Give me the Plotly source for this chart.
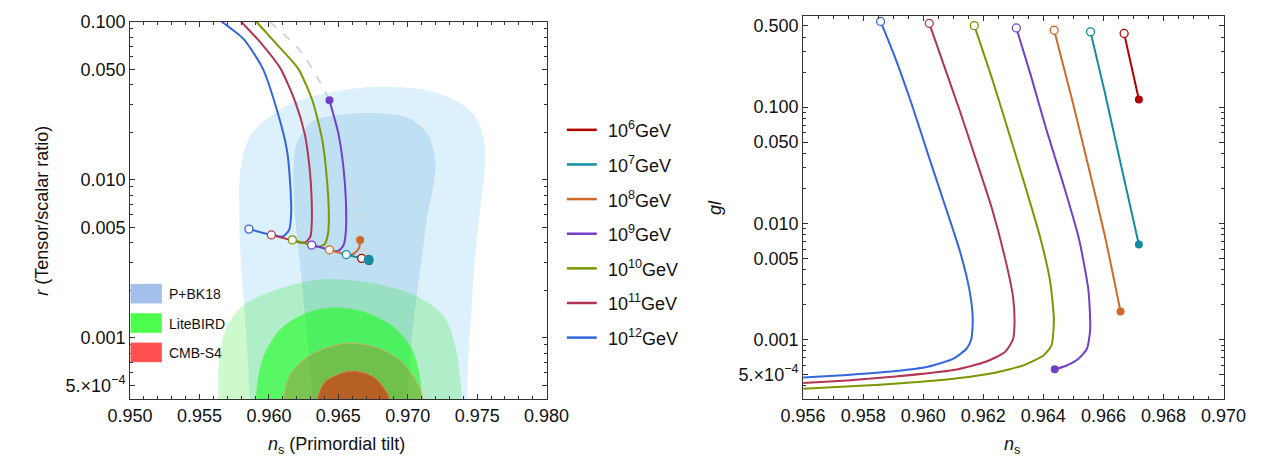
import plotly.graph_objects as go

W, H = 1288, 459

# ---------------- data ----------------
energy_labels = ["10<sup>6</sup>GeV", "10<sup>7</sup>GeV", "10<sup>8</sup>GeV", "10<sup>9</sup>GeV",
                 "10<sup>10</sup>GeV", "10<sup>11</sup>GeV", "10<sup>12</sup>GeV"]
energy_colors = ["#b00000", "#138ca2", "#d06828", "#7040c8", "#7a9802", "#b03652", "#3366dd"]

# Left panel: (n_s, r) tracks, from the upper end down to the open circle
left_ns_1e12 = [0.9566, 0.9582, 0.95956, 0.9606, 0.9613, 0.96153, 0.9616, 0.96145, 0.9610, 0.96018, 0.95856]
left_r_1e12 = [0.100, 0.0774, 0.0505, 0.0272, 0.0154, 0.00955, 0.0060, 0.0048, 0.00437, 0.00447, 0.00487]
left_ns_1e11 = [0.9580, 0.9594, 0.96084, 0.96188, 0.96258, 0.96292, 0.96308, 0.96308, 0.96300, 0.9627, 0.9623, 0.96169, 0.96018]
left_r_1e11 = [0.100, 0.0738, 0.0505, 0.0314, 0.0195, 0.01213, 0.00754, 0.00515, 0.0044, 0.00405, 0.00400, 0.00413, 0.00447]
left_ns_1e10 = [0.9591, 0.96067, 0.96211, 0.96315, 0.96385, 0.96420, 0.96432, 0.96425, 0.9640, 0.9636, 0.96308, 0.96169]
left_r_1e10 = [0.100, 0.0703, 0.0505, 0.0314, 0.01774, 0.00955, 0.00594, 0.0045, 0.0039, 0.00376, 0.00386, 0.00416]
left_ns_1e9 = [0.96436, 0.96501, 0.96536, 0.96554, 0.96554, 0.9654, 0.9651, 0.9648, 0.96436, 0.96308]
left_r_1e9 = [0.0318, 0.0195, 0.01213, 0.00754, 0.00469, 0.0039, 0.0036, 0.00352, 0.00360, 0.00386]
left_ns_1e8 = [0.96657, 0.96650, 0.96620, 0.96590, 0.96557, 0.96436]
left_r_1e8 = [0.00416, 0.0037, 0.00345, 0.00334, 0.00336, 0.00360]
left_ns_1e7 = [0.96719, 0.96668, 0.96557]
left_r_1e7 = [0.00311, 0.00318, 0.00336]
left_ns_1e6 = [0.96722, 0.96668]
left_r_1e6 = [0.00306, 0.00318]

# grey dashed locus of end points
locus_ns = [0.96005, 0.96216, 0.96340, 0.96434, 0.96524, 0.96582, 0.96617, 0.96645, 0.96657, 0.96719]
locus_r = [0.1, 0.0671, 0.0458, 0.0317, 0.0154, 0.00955, 0.00653, 0.0050, 0.00416, 0.0031]

# Right panel: (n_s, gl) tracks, from the open circle downwards
right_ns_1e12 = [0.95858, 0.95908, 0.95962, 0.96015, 0.96069, 0.96122, 0.96154, 0.96165, 0.96160, 0.96144, 0.96101, 0.96015, 0.95908, 0.95748, 0.95600]
right_gl_1e12 = [0.545, 0.260, 0.1052, 0.0400, 0.0152, 0.00578, 0.00267, 0.00149, 0.00101, 0.000836, 0.000689, 0.000586, 0.000538, 0.000498, 0.000473]
right_ns_1e11 = [0.96020, 0.96069, 0.96122, 0.96176, 0.96229, 0.96272, 0.96299, 0.96304, 0.96299, 0.96272, 0.96208, 0.96101, 0.95908, 0.95748, 0.95600]
right_gl_1e11 = [0.525, 0.2284, 0.0925, 0.0352, 0.01337, 0.00508, 0.00234, 0.00140, 0.00101, 0.000783, 0.000646, 0.000548, 0.000482, 0.000447, 0.000424]
right_ns_1e10 = [0.96170, 0.96229, 0.96283, 0.96336, 0.96390, 0.96422, 0.96435, 0.96427, 0.96401, 0.96336, 0.96229, 0.96069, 0.95855, 0.95600]
right_gl_1e10 = [0.5016, 0.1764, 0.0628, 0.0224, 0.00748, 0.00324, 0.00149, 0.000891, 0.000735, 0.000605, 0.000514, 0.000452, 0.000410, 0.000378]
right_ns_1e9 = [0.96310, 0.96358, 0.96411, 0.96465, 0.96518, 0.96550, 0.96556, 0.96545, 0.96518, 0.96476, 0.96438]
right_gl_1e9 = [0.4793, 0.1882, 0.0628, 0.0224, 0.00748, 0.00267, 0.00123, 0.000836, 0.000689, 0.000597, 0.000556]
right_ns_1e8 = [0.96436, 0.96497, 0.96550, 0.96604, 0.96657]
right_gl_1e8 = [0.458, 0.1123, 0.0309, 0.00798, 0.00175]
right_ns_1e7 = [0.96557, 0.96604, 0.96657, 0.96718]
right_gl_1e7 = [0.4434, 0.1363, 0.0330, 0.00658]
right_ns_1e6 = [0.96669, 0.96718]
right_gl_1e6 = [0.4295, 0.116]

# which tracks end in a filled dot (left: first point, right: last point)
ends_in_dot = [True, True, True, True, False, False, False]

# Constraint regions (n_s, r boundaries; closed below the visible range)
bk18_outer_ns = [0.95861, 0.95849, 0.95826, 0.95799, 0.95787, 0.95792, 0.95849, 0.95965, 0.96196, 0.96544, 0.96776,
                 0.97123, 0.97354, 0.97493, 0.97557, 0.97551, 0.97516, 0.97481, 0.97458, 0.97435, 0.97428, 0.97426, 0.96640, 0.95863]
bk18_outer_r = [4.06e-4, 7.0e-4, 1.43e-3, 2.91e-3, 5.94e-3, 0.0110, 0.01774, 0.0236, 0.0314, 0.0370, 0.0388,
                0.0370, 0.0314, 0.0247, 0.0161, 0.0110, 5.94e-3, 2.91e-3, 1.43e-3, 7.0e-4, 4.06e-4, 2e-4, 2e-4, 2e-4]
bk18_inner_ns = [0.96312, 0.96290, 0.96255, 0.96220, 0.96185, 0.96174, 0.96196, 0.96312, 0.96498, 0.96776, 0.97007,
                 0.97146, 0.97203, 0.97192, 0.97146, 0.97099, 0.97053, 0.97019, 0.96995, 0.96993, 0.96650, 0.96314]
bk18_inner_r = [4.06e-4, 7.0e-4, 1.43e-3, 2.91e-3, 5.94e-3, 0.01213, 0.0169, 0.0236, 0.0259, 0.0266, 0.0247,
                0.0195, 0.0133, 9.55e-3, 5.94e-3, 2.91e-3, 1.43e-3, 7.0e-4, 4.06e-4, 2e-4, 2e-4, 2e-4]
litebird_outer_ns = [0.95637, 0.95641, 0.95688, 0.95803, 0.96035, 0.96405, 0.96776, 0.97076, 0.97262, 0.97342, 0.97377,
                     0.97389, 0.97390, 0.96510, 0.95636]
litebird_outer_r = [4.06e-4, 7.0e-4, 1.125e-3, 1.57e-3, 1.99e-3, 2.35e-3, 2.19e-3, 1.81e-3, 1.36e-3, 8.89e-4, 5.52e-4,
                    4.06e-4, 2e-4, 2e-4, 2e-4]
litebird_inner_ns = [0.95908, 0.95919, 0.95965, 0.96081, 0.96266, 0.96451, 0.96683, 0.96891, 0.97030, 0.97088, 0.97099,
                     0.97100, 0.96500, 0.95907]
litebird_inner_r = [4.06e-4, 5.26e-4, 7.7e-4, 1.125e-3, 1.43e-3, 1.55e-3, 1.46e-3, 1.18e-3, 8.47e-4, 5.52e-4, 4.06e-4,
                    2e-4, 2e-4, 2e-4]
cmbs4_outer_ns = [0.96104, 0.96151, 0.96290, 0.96544, 0.96776, 0.96960, 0.97076, 0.97111, 0.97112, 0.96600, 0.96103]
cmbs4_outer_r = [4.06e-4, 5.8e-4, 7.7e-4, 9.19e-4, 8.67e-4, 7.0e-4, 5.02e-4, 4.06e-4, 2e-4, 2e-4, 2e-4]
cmbs4_inner_ns = [0.96347, 0.96405, 0.96590, 0.96752, 0.96845, 0.96868, 0.96869, 0.96600, 0.96346]
cmbs4_inner_r = [4.06e-4, 5.26e-4, 6.14e-4, 5.65e-4, 4.56e-4, 4.06e-4, 2e-4, 2e-4, 2e-4]

region_names = ["P+BK18", "LiteBIRD", "CMB-S4"]
region_swatch = ["#a3bfea", "#4dff4d", "#ff5050"]

# ticks
left_x_ticks = [0.950, 0.955, 0.960, 0.965, 0.970, 0.975, 0.980]
left_y_ticks = [0.1, 0.05, 0.01, 0.005, 0.001, 0.0005]
left_y_text = ["0.100", "0.050", "0.010", "0.005", "0.001", "5.×10<sup>−4</sup>"]
right_x_ticks = [0.956, 0.958, 0.960, 0.962, 0.964, 0.966, 0.968, 0.970]
right_y_ticks = [0.5, 0.1, 0.05, 0.01, 0.005, 0.001, 0.0005]
right_y_text = ["0.500", "0.100", "0.050", "0.010", "0.005", "0.001", "5.×10<sup>−4</sup>"]

# ---------------- figure ----------------
FONT = "Liberation Sans, Arial, sans-serif"
FS = 18
fig = go.Figure()

left_tracks = [(left_ns_1e6, left_r_1e6), (left_ns_1e7, left_r_1e7), (left_ns_1e8, left_r_1e8),
               (left_ns_1e9, left_r_1e9), (left_ns_1e10, left_r_1e10), (left_ns_1e11, left_r_1e11),
               (left_ns_1e12, left_r_1e12)]
right_tracks = [(right_ns_1e6, right_gl_1e6), (right_ns_1e7, right_gl_1e7), (right_ns_1e8, right_gl_1e8),
                (right_ns_1e9, right_gl_1e9), (right_ns_1e10, right_gl_1e10), (right_ns_1e11, right_gl_1e11),
                (right_ns_1e12, right_gl_1e12)]

regions = [
    (bk18_outer_ns, bk18_outer_r, "rgba(0,153,233,0.137)", "rgba(255,255,255,0.0)"),
    (bk18_inner_ns, bk18_inner_r, "rgba(75,155,205,0.2)", "rgba(255,255,255,0.45)"),
    (litebird_outer_ns, litebird_outer_r, "rgba(0,230,0,0.2)", "rgba(255,255,255,0.0)"),
    (litebird_inner_ns, litebird_inner_r, "rgba(0,255,0,0.5)", "rgba(120,235,120,0.5)"),
    (cmbs4_outer_ns, cmbs4_outer_r, "rgba(255,0,0,0.2)", "rgba(240,160,140,0.7)"),
    (cmbs4_inner_ns, cmbs4_inner_r, "rgba(255,0,0,0.5)", "rgba(255,110,90,0.7)"),
]
for ns, r, fc, lc in regions:
    fig.add_trace(go.Scatter(x=ns, y=r, mode="lines", fill="toself", fillcolor=fc,
                             line=dict(color=lc, width=1, shape="spline", smoothing=0.9),
                             hoverinfo="skip", showlegend=False, xaxis="x", yaxis="y"))

fig.add_trace(go.Scatter(x=locus_ns, y=locus_r, mode="lines",
                         line=dict(color="#d6d6d6", width=2, dash="dash", shape="spline", smoothing=0.8),
                         showlegend=False, xaxis="x", yaxis="y"))

# lines, drawn from 10^12 to 10^6
for i in reversed(range(7)):
    ns, r = left_tracks[i]
    fig.add_trace(go.Scatter(x=ns, y=r, mode="lines",
                             line=dict(color=energy_colors[i], width=2, shape="spline", smoothing=0.6),
                             showlegend=False, xaxis="x", yaxis="y"))
    ns2, gl = right_tracks[i]
    fig.add_trace(go.Scatter(x=ns2, y=gl, mode="lines",
                             line=dict(color=energy_colors[i], width=2, shape="spline", smoothing=0.6),
                             showlegend=False, xaxis="x2", yaxis="y2"))

# markers
for i in range(7):
    c = energy_colors[i]
    ns, r = left_tracks[i]
    ns2, gl = right_tracks[i]
    fig.add_trace(go.Scatter(x=[ns[-1]], y=[r[-1]], mode="markers",
                             marker=dict(size=8, color="white", line=dict(color=c, width=1.3)),
                             showlegend=False, xaxis="x", yaxis="y"))
    fig.add_trace(go.Scatter(x=[ns2[0]], y=[gl[0]], mode="markers",
                             marker=dict(size=8, color="white", line=dict(color=c, width=1.3)),
                             showlegend=False, xaxis="x2", yaxis="y2"))
    if ends_in_dot[i]:
        sz = 10 if i == 1 else 8
        fig.add_trace(go.Scatter(x=[ns[0]], y=[r[0]], mode="markers",
                                 marker=dict(size=sz, color=c, line=dict(width=0)),
                                 showlegend=False, xaxis="x", yaxis="y"))
        fig.add_trace(go.Scatter(x=[ns2[-1]], y=[gl[-1]], mode="markers",
                                 marker=dict(size=8, color=c, line=dict(width=0)),
                                 showlegend=False, xaxis="x2", yaxis="y2"))


def minor_log(lo, hi, majors):
    vals = []
    for k in range(-5, 1):
        for d in range(2, 10):
            v = d * 10 ** k
            if lo <= v <= hi and all(abs(v - m) > 1e-12 for m in majors):
                vals.append(v)
    return vals


axis_common = dict(showline=True, linecolor="#333333", linewidth=1, mirror="allticks",
                   ticks="inside", ticklen=5, tickwidth=1, tickcolor="#333333",
                   showgrid=False, zeroline=False,
                   tickfont=dict(family=FONT, size=FS, color="#111111"))

fig.update_layout(
    width=W, height=H, margin=dict(l=0, r=0, t=0, b=0),
    paper_bgcolor="white", plot_bgcolor="white", showlegend=False,
    xaxis=dict(domain=[111 / W, 543 / W], range=[0.950, 0.980], anchor="y",
               tickvals=left_x_ticks, ticktext=[f"{v:.3f}" for v in left_x_ticks],
               minor=dict(dtick=0.001, tick0=0.95, ticks="inside", ticklen=3, tickcolor="#333333"),
               **axis_common),
    yaxis=dict(domain=[1 - 398 / H, 1 - 12 / H], type="log", range=[-3.390, -1.0], anchor="x",
               tickvals=left_y_ticks, ticktext=left_y_text,
               minor=dict(tickvals=minor_log(4e-4, 0.1, left_y_ticks), ticks="inside", ticklen=3,
                          tickcolor="#333333"),
               **axis_common),
    xaxis2=dict(domain=[809 / W, 1245 / W], range=[0.956, 0.970], anchor="y2",
                tickvals=right_x_ticks, ticktext=[f"{v:.3f}" for v in right_x_ticks],
                minor=dict(dtick=0.0005, tick0=0.956, ticks="inside", ticklen=3, tickcolor="#333333"),
                **axis_common),
    yaxis2=dict(domain=[1 - 398 / H, 1 - 6 / H], type="log", range=[-3.5126, -0.2157], anchor="x2",
                tickvals=right_y_ticks, ticktext=right_y_text,
                minor=dict(tickvals=minor_log(3e-4, 0.6, right_y_ticks), ticks="inside", ticklen=3,
                           tickcolor="#333333"),
                **axis_common),
)

ann = []
shapes = []
txt_font = dict(family=FONT, size=FS, color="#111111")
# axis titles
ann.append(dict(x=325 / W, y=1 - 445 / H, xref="paper", yref="paper", showarrow=False,
                text="<i>n</i><sub>s</sub> (Primordial tilt)", font=txt_font, xanchor="center", yanchor="middle"))
ann.append(dict(x=19 / W, y=1 - 205 / H, xref="paper", yref="paper", showarrow=False, textangle=-90,
                text="<i>r</i> (Tensor/scalar ratio)", font=txt_font, xanchor="center", yanchor="middle"))
ann.append(dict(x=1026 / W, y=1 - 445 / H, xref="paper", yref="paper", showarrow=False,
                text="<i>n</i><sub>s</sub>", font=txt_font, xanchor="center", yanchor="middle"))
ann.append(dict(x=717 / W, y=1 - 202 / H, xref="paper", yref="paper", showarrow=False, textangle=-90,
                text="<i>gl</i>", font=txt_font, xanchor="center", yanchor="middle"))

# energy legend
for i, (lab, c) in enumerate(zip(energy_labels, energy_colors)):
    yc = 122.5 + 35.4 * i
    shapes.append(dict(type="line", xref="paper", yref="paper", x0=564 / W, x1=595 / W,
                       y0=1 - yc / H, y1=1 - yc / H, line=dict(color=c, width=2.5)))
    ann.append(dict(x=605 / W, y=1 - yc / H, xref="paper", yref="paper", showarrow=False,
                    text=lab, font=txt_font, xanchor="left", yanchor="middle"))

# region legend inside the left panel
for i, (nm, c) in enumerate(zip(region_names, region_swatch)):
    y0 = 280 + 30 * i
    shapes.append(dict(type="rect", xref="paper", yref="paper", x0=111.5 / W, x1=144 / W,
                       y0=1 - (y0 + 20) / H, y1=1 - y0 / H, fillcolor=c, line=dict(width=0), layer="above"))
    ann.append(dict(x=149 / W, y=1 - (y0 + 10.5) / H, xref="paper", yref="paper", showarrow=False,
                    text=nm, font=dict(family=FONT, size=14, color="#111111"),
                    xanchor="left", yanchor="middle"))

fig.update_layout(annotations=ann, shapes=shapes)
fig.write_html("out.html")
